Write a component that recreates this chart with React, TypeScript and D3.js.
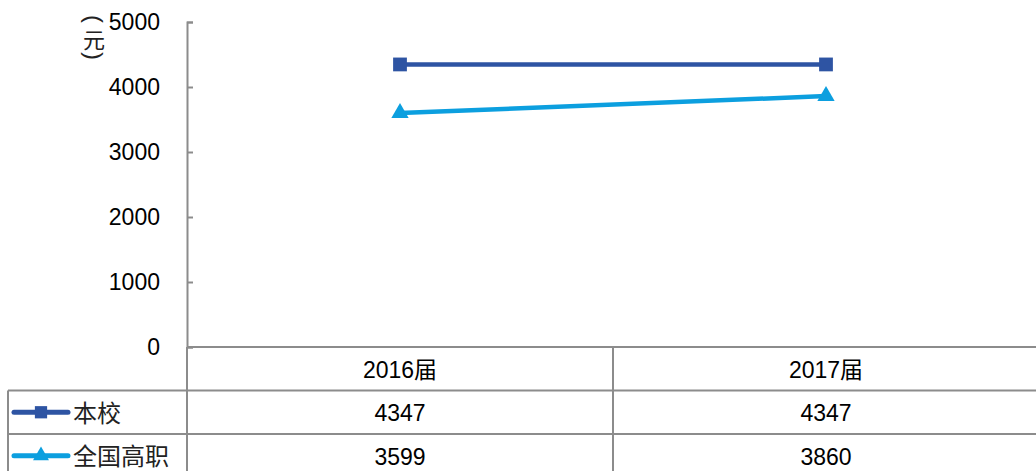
import React, { useRef, useEffect } from "react";
import * as d3 from "d3";

const categories = ["2016届", "2017届"];
const seriesNames = ["本校", "全国高职"];
const schoolValues = [4347, 4347];
const nationalValues = [3599, 3860];
const yTicks = [0, 1000, 2000, 3000, 4000, 5000];

const colors = ["#2E54A3", "#0C9FDF"];
const gridColor = "#8c8c8c";
const fontFamily = "'Liberation Sans', 'Noto Sans CJK SC', sans-serif";
const cjkFont = "'Noto Sans CJK SC', sans-serif";

const App = () => {
  const svgRef = useRef<SVGSVGElement>(null);

  useEffect(() => {
    const svg = d3.select(svgRef.current);
    svg.selectAll("*").remove();

    const width = 1036;
    const plotLeft = 187;
    const plotTop = 22;
    const plotBottom = 347;
    const rowH = 43.5;
    const tableLeft = 8;

    const x = d3
      .scaleBand<string>()
      .domain(categories)
      .range([plotLeft, plotLeft + 852]);

    const y = d3.scaleLinear().domain([0, 5000]).range([plotBottom, plotTop]);

    // y axis (ticks inside)
    const yAxis = svg
      .append("g")
      .attr("transform", `translate(${plotLeft}, 0)`)
      .call(d3.axisRight(y).tickValues(yTicks).tickSize(6).tickFormat(() => ""));
    yAxis.select(".domain").attr("stroke", gridColor).attr("stroke-width", 2);
    yAxis.selectAll(".tick line").attr("stroke", gridColor).attr("stroke-width", 2);

    svg
      .append("g")
      .selectAll("text")
      .data(yTicks)
      .join("text")
      .attr("x", 160)
      .attr("y", (d) => y(d))
      .attr("dy", "0.35em")
      .attr("text-anchor", "end")
      .attr("font-family", fontFamily)
      .attr("font-size", 23)
      .attr("fill", "#000")
      .text((d) => d);

    // unit label, written vertically: rotated brackets around 元
    const unit = svg
      .append("g")
      .attr("font-size", 24)
      .attr("text-anchor", "middle")
      .attr("dominant-baseline", "central")
      .attr("fill", "#222");
    unit
      .append("text")
      .attr("font-family", fontFamily)
      .attr("transform", "translate(94, 19) rotate(90)")
      .text("(");
    unit
      .append("text")
      .attr("font-family", cjkFont)
      .attr("font-size", 22)
      .attr("x", 94)
      .attr("y", 38)
      .text("元");
    unit
      .append("text")
      .attr("font-family", fontFamily)
      .attr("transform", "translate(94, 56) rotate(90)")
      .text(")");

    // data table grid
    const table = svg.append("g").attr("stroke", gridColor).attr("stroke-width", 2);
    const rowYs = [plotBottom, plotBottom + rowH, plotBottom + rowH * 2];
    rowYs.forEach((ry, i) => {
      table
        .append("line")
        .attr("x1", i === 0 ? plotLeft : tableLeft)
        .attr("x2", width)
        .attr("y1", ry)
        .attr("y2", ry);
    });
    table
      .append("line")
      .attr("x1", tableLeft)
      .attr("x2", tableLeft)
      .attr("y1", plotBottom + rowH)
      .attr("y2", 471);
    [plotLeft, plotLeft + x.bandwidth()].forEach((vx) => {
      table
        .append("line")
        .attr("x1", vx)
        .attr("x2", vx)
        .attr("y1", plotBottom)
        .attr("y2", 471);
    });

    // header labels
    svg
      .append("g")
      .selectAll("text")
      .data(categories)
      .join("text")
      .attr("x", (d) => x(d)! + x.bandwidth() / 2)
      .attr("y", plotBottom + rowH / 2 + 1)
      .attr("dy", "0.35em")
      .attr("text-anchor", "middle")
      .attr("font-family", fontFamily)
      .attr("font-size", 23)
      .text((d) => d);

    const allSeries = [schoolValues, nationalValues];

    allSeries.forEach((vals, si) => {
      const rowY = plotBottom + rowH * (si + 1) + rowH / 2 + 1;
      svg
        .append("g")
        .selectAll("text")
        .data(vals)
        .join("text")
        .attr("x", (_, i) => x(categories[i])! + x.bandwidth() / 2)
        .attr("y", rowY)
        .attr("dy", "0.35em")
        .attr("text-anchor", "middle")
        .attr("font-family", fontFamily)
        .attr("font-size", 23)
        .text((d) => d);

      // legend key
      svg
        .append("line")
        .attr("x1", 14)
        .attr("x2", 68)
        .attr("y1", rowY - 1)
        .attr("y2", rowY - 1)
        .attr("stroke", colors[si])
        .attr("stroke-width", 5)
        .attr("stroke-linecap", "round");
      const sym = si === 0 ? d3.symbolSquare : d3.symbolTriangle;
      svg
        .append("path")
        .attr("d", d3.symbol(sym, si === 0 ? 150 : 110)())
        .attr("transform", `translate(41, ${rowY - 1})`)
        .attr("fill", colors[si]);
      svg
        .append("text")
        .attr("x", 73)
        .attr("y", rowY)
        .attr("dy", "0.35em")
        .attr("font-family", cjkFont)
        .attr("font-size", 24)
        .attr("fill", "#222")
        .text(seriesNames[si]);
    });

    // series lines and markers
    const line = d3
      .line<number>()
      .x((_, i) => x(categories[i])! + x.bandwidth() / 2)
      .y((d) => y(d));

    allSeries.forEach((vals, si) => {
      svg
        .append("path")
        .datum(vals)
        .attr("d", line)
        .attr("fill", "none")
        .attr("stroke", colors[si])
        .attr("stroke-width", 4.5);
      const sym = si === 0 ? d3.symbolSquare : d3.symbolTriangle;
      svg
        .append("g")
        .selectAll("path")
        .data(vals)
        .join("path")
        .attr("d", d3.symbol(sym, si === 0 ? 190 : 130)())
        .attr(
          "transform",
          (d, i) => `translate(${x(categories[i])! + x.bandwidth() / 2}, ${y(d)})`
        )
        .attr("fill", colors[si]);
    });
  }, []);

  return (
    <svg
      ref={svgRef}
      width="1036"
      height="471"
      style={{ position: "absolute", left: 0, top: 0, display: "block", background: "#fff" }}
    />
  );
};

export default App;
